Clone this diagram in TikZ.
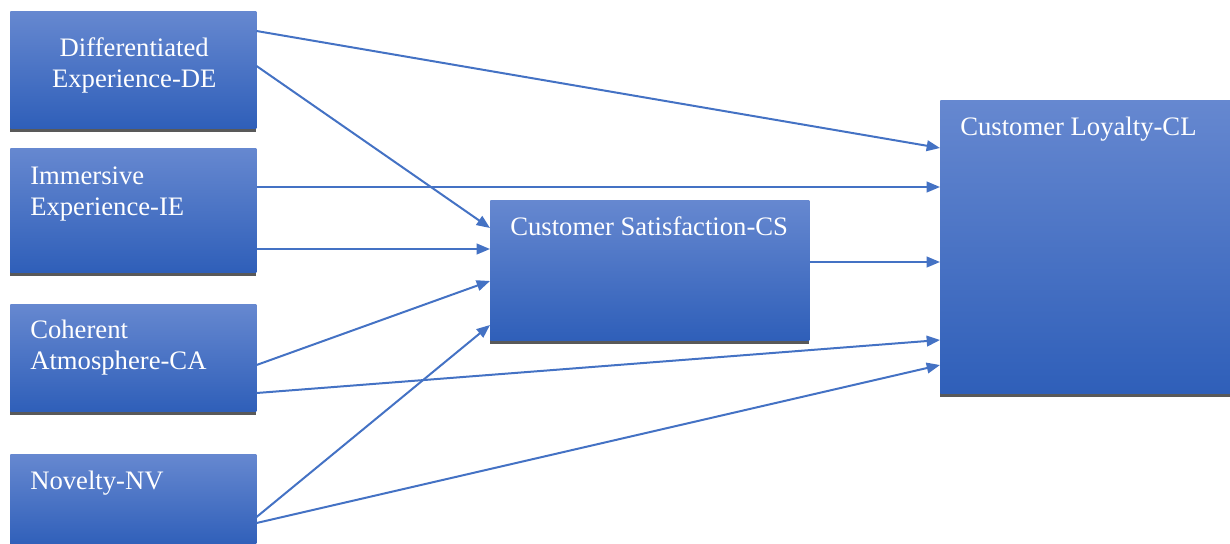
\documentclass[tikz,border=0pt]{standalone}
\usepackage{fontspec}
\setmainfont{Liberation Serif}
\usetikzlibrary{arrows.meta,calc,shadows}

\definecolor{linkblue}{HTML}{4472C4}
\definecolor{boxtop}{HTML}{6688D0}
\definecolor{boxmid}{HTML}{4673CA}
\definecolor{boxbot}{HTML}{2F5FB9}
\definecolor{shadowgray}{HTML}{595959}

\tikzset{
  factor/.style={rectangle, inner sep=0pt, anchor=north west,
    top color=boxtop, middle color=boxmid, bottom color=boxbot,
    drop shadow={shadow xshift=0pt, shadow yshift=-2.5pt, fill=shadowgray, opacity=1}},
  boxtext/.style={text=white, inner sep=0pt, font=\fontsize{20}{23.25}\selectfont},
  link/.style={draw=linkblue, line width=1.5pt, -{Triangle[length=10pt,width=8pt]}}
}

\begin{document}
\begin{tikzpicture}[x=0.75pt, y=-0.75pt]
\useasboundingbox (0,0) rectangle (1230,543);

%% factor boxes
\node[factor, minimum width=184.5pt, minimum height=87.75pt] (de) at (10,11) {};
\node[factor, minimum width=184.5pt, minimum height=93pt] (ie) at (10,148) {};
\node[factor, minimum width=184.5pt, minimum height=80.25pt] (ca) at (10,304) {};
\node[factor, minimum width=184.5pt, minimum height=69pt] (nv) at (10,454) {};
\node[factor, minimum width=239.25pt, minimum height=105pt] (cs) at (490,200) {};
\node[factor, minimum width=217.5pt, minimum height=219.75pt] (cl) at (940,100) {};

%% box texts
\node[boxtext, anchor=north, align=center] (de text) at ($(de.north)+(1,26)$) {Differentiated\\Experience-DE};
\node[boxtext, anchor=north west, align=left] (ie text) at ($(ie.north west)+(20,19)$) {Immersive\\Experience-IE};
\node[boxtext, anchor=north west, align=left] (ca text) at ($(ca.north west)+(20,16)$) {Coherent\\Atmosphere-CA};
\node[boxtext, anchor=north west] (nv text) at ($(nv.north west)+(20,17)$) {Novelty-NV};
\node[boxtext, anchor=north west] (cs text) at ($(cs.north west)+(20,16)$) {Customer Satisfaction-CS};
\node[boxtext, anchor=north west] (cl text) at ($(cl.north west)+(20,17)$) {Customer Loyalty-CL};

%% paths
\draw[link] ($(de.north east)+(0,20)$) -- ($(cl.north west)+(0,48)$);
\draw[link] ($(de.north east)+(0,55)$) -- ($(cs.north west)+(0,28)$);
\draw[link] ($(ie.north east)+(0,39)$) -- ($(cl.north west)+(0,87)$);
\draw[link] ($(ie.north east)+(0,101)$) -- ($(cs.north west)+(0,49)$);
\draw[link] ($(ca.north east)+(0,61)$) -- ($(cs.north west)+(0,81)$);
\draw[link] ($(ca.north east)+(0,89)$) -- ($(cl.north west)+(0,240)$);
\draw[link] ($(nv.north east)+(0,63)$) -- ($(cs.north west)+(0,125)$);
\draw[link] ($(nv.north east)+(0,69)$) -- ($(cl.north west)+(0,265)$);
\draw[link] ($(cs.north east)+(0,62)$) -- ($(cl.north west)+(0,162)$);

\end{tikzpicture}
\end{document}
